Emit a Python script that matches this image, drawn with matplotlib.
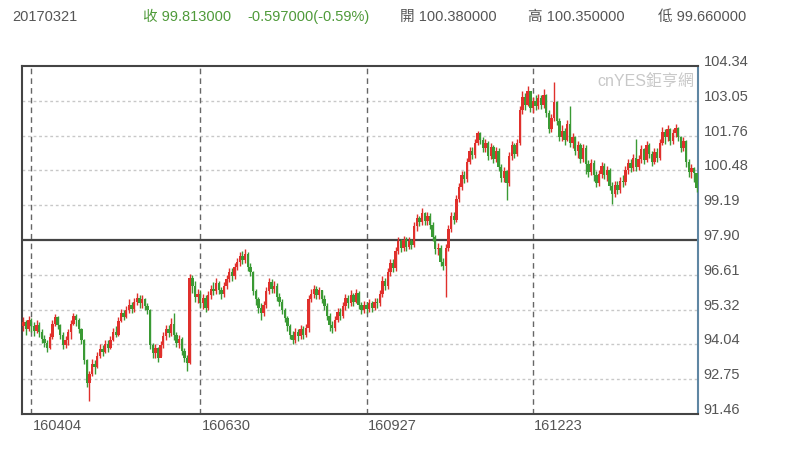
import numpy as np
import matplotlib
matplotlib.use("Agg")
import matplotlib.pyplot as plt
import matplotlib.transforms as mtransforms

plt.rcParams['font.family'] = ['Liberation Sans', 'Noto Sans CJK TC', 'DejaVu Sans']

# daily candles 2016-03 .. 2017-03-21
closes = [
    94.85, 94.60, 94.95, 94.70, 94.55, 94.75, 94.50, 94.25, 94.10, 93.90,
    94.30, 94.80, 95.05, 94.75, 94.40, 94.00, 94.20, 94.50, 94.80, 95.10,
    94.95, 94.60, 94.20, 93.45, 92.60, 92.95, 93.30, 93.20, 93.60, 93.85,
    93.75, 94.05, 93.90, 94.20, 94.50, 94.40, 94.90, 95.20, 95.05, 95.30,
    95.50, 95.35, 95.60, 95.75, 95.55, 95.70, 95.45, 95.30, 94.00, 93.70,
    93.90, 93.55, 94.00, 94.35, 94.60, 94.45, 94.80, 94.40, 94.10, 94.25,
    93.80, 93.55, 93.35, 96.50, 96.20, 95.80, 95.90, 95.55, 95.75, 95.40,
    95.85, 96.10, 96.00, 96.30, 96.05, 95.90, 96.20, 96.45, 96.70, 96.55,
    96.90, 97.10, 97.30, 97.15, 97.40, 96.90, 96.70, 96.00, 95.70, 95.40,
    95.20, 95.50, 96.00, 96.35, 96.10, 96.20, 95.80, 95.60, 95.30, 95.00,
    94.70, 94.40, 94.20, 94.50, 94.35, 94.60, 94.40, 94.65, 95.70, 95.90,
    96.10, 95.85, 96.05, 95.70, 95.45, 95.10, 94.75, 94.65, 94.95, 95.25,
    95.10, 95.45, 95.75, 95.55, 95.85, 95.60, 95.95, 95.50, 95.30, 95.50,
    95.35, 95.55, 95.40, 95.60, 95.55, 95.90, 96.40, 96.20, 96.70, 97.05,
    96.85, 97.50, 97.85, 97.60, 97.90, 97.65, 97.85, 97.70, 98.40, 98.70,
    98.55, 98.90, 98.60, 98.80, 98.45, 98.00, 97.55, 97.60, 97.10, 96.95,
    97.60, 98.30, 98.80, 98.65, 99.40, 99.85, 100.30, 100.15, 100.80, 101.20,
    101.05, 101.50, 101.85, 101.60, 101.30, 101.50, 101.00, 101.35, 100.90, 101.20,
    100.60, 100.20, 100.45, 100.00, 101.00, 101.40, 101.10, 101.50, 102.70, 103.20,
    102.90, 103.40, 102.80, 103.05, 102.85, 103.15, 102.90, 103.25, 102.60, 102.00,
    102.40, 103.00, 102.30, 101.70, 101.95, 101.60, 102.20, 101.50, 101.70, 101.20,
    101.40, 100.90, 101.30, 100.70, 100.40, 100.75, 100.30, 100.00, 100.35, 100.65,
    100.30, 100.50, 99.90, 99.60, 99.95, 99.75, 100.10, 100.05, 100.50, 100.75,
    100.55, 100.95, 100.60, 100.90, 101.25, 100.85, 101.40, 101.10, 100.80, 101.15,
    100.95, 101.50, 101.90, 101.70, 102.00, 101.55, 101.85, 102.05, 101.70, 101.30,
    101.55, 100.80, 100.40, 100.55, 100.38, 99.81,
]
highs = [
    95.05, 94.95, 95.10, 95.00, 94.85, 94.95, 94.85, 94.60, 94.40, 94.20,
    94.45, 94.95, 95.15, 95.10, 94.80, 94.50, 94.35, 94.60, 94.95, 95.20,
    95.15, 95.00, 94.65, 94.25, 93.50, 93.05, 93.50, 93.45, 93.75, 94.05,
    94.00, 94.20, 94.20, 94.35, 94.65, 94.70, 95.05, 95.35, 95.30, 95.45,
    95.70, 95.60, 95.75, 95.95, 95.85, 95.85, 95.75, 95.55, 95.35, 94.10,
    94.05, 93.95, 94.15, 94.50, 94.75, 94.75, 95.00, 95.20, 94.50, 94.40,
    94.30, 93.90, 93.65, 96.65, 96.60, 96.40, 96.10, 96.05, 95.90, 95.85,
    96.00, 96.25, 96.35, 96.50, 96.40, 96.15, 96.35, 96.60, 96.85, 96.85,
    97.05, 97.25, 97.45, 97.50, 97.55, 97.45, 97.05, 96.75, 96.10, 95.80,
    95.55, 95.65, 96.15, 96.50, 96.45, 96.40, 96.30, 95.95, 95.70, 95.40,
    95.10, 94.80, 94.55, 94.65, 94.60, 94.75, 94.70, 94.80, 95.85, 96.10,
    96.25, 96.20, 96.15, 96.05, 95.85, 95.55, 95.20, 94.90, 95.10, 95.40,
    95.40, 95.60, 95.90, 95.85, 96.05, 95.95, 96.10, 96.00, 95.60, 95.65,
    95.60, 95.70, 95.65, 95.75, 95.75, 96.05, 96.55, 96.50, 96.85, 97.20,
    97.20, 97.65, 98.00, 97.95, 98.05, 98.00, 98.00, 97.95, 98.55, 98.85,
    98.80, 99.10, 98.95, 98.95, 98.90, 98.55, 98.10, 97.80, 97.70, 97.25,
    97.75, 98.45, 98.95, 98.95, 99.55, 100.00, 100.45, 100.45, 100.95, 101.35,
    101.35, 101.65, 101.95, 101.90, 101.70, 101.65, 101.55, 101.50, 101.40, 101.35,
    101.30, 100.70, 100.60, 100.50, 101.15, 101.55, 101.50, 101.65, 102.85, 103.40,
    103.35, 103.60, 103.40, 103.20, 103.25, 103.30, 103.25, 103.50, 103.30, 102.70,
    102.55, 103.75, 103.05, 102.40, 102.15, 102.05, 102.35, 102.85, 101.85, 101.75,
    101.55, 101.50, 101.45, 101.40, 100.85, 100.90, 100.85, 100.45, 100.50, 100.80,
    100.75, 100.65, 100.55, 100.05, 100.10, 100.10, 100.25, 100.30, 100.65, 100.90,
    100.90, 101.10, 101.65, 101.05, 101.40, 101.30, 101.55, 101.50, 101.20, 101.30,
    101.30, 101.65, 102.10, 102.00, 102.15, 102.05, 102.00, 102.20, 102.10, 101.75,
    101.70, 101.60, 100.90, 100.70, 100.60, 100.38,
]
lows = [
    94.55, 94.40, 94.55, 94.50, 94.35, 94.45, 94.30, 94.10, 93.95, 93.75,
    93.85, 94.25, 94.70, 94.60, 94.25, 93.85, 93.90, 94.00, 94.25, 94.75,
    94.70, 94.45, 94.05, 93.30, 92.45, 91.95, 92.85, 92.95, 93.15, 93.55,
    93.60, 93.70, 93.75, 93.85, 94.15, 94.30, 94.35, 94.85, 94.95, 95.00,
    95.20, 95.20, 95.25, 95.50, 95.40, 95.40, 95.30, 95.15, 93.85, 93.55,
    93.55, 93.40, 93.60, 93.90, 94.20, 94.30, 94.35, 94.20, 93.95, 93.90,
    93.65, 93.40, 93.05, 93.30, 95.95, 95.60, 95.55, 95.40, 95.35, 95.25,
    95.30, 95.70, 95.85, 95.90, 95.90, 95.70, 95.80, 96.10, 96.35, 96.40,
    96.45, 96.80, 96.95, 97.00, 97.05, 96.75, 96.55, 95.85, 95.50, 95.20,
    94.95, 95.10, 95.40, 95.90, 95.95, 95.95, 95.65, 95.45, 95.15, 94.85,
    94.55, 94.25, 94.05, 94.10, 94.15, 94.25, 94.25, 94.30, 94.50, 95.60,
    95.75, 95.70, 95.70, 95.55, 95.30, 94.95, 94.55, 94.45, 94.55, 94.85,
    94.95, 95.00, 95.30, 95.40, 95.45, 95.45, 95.55, 95.35, 95.15, 95.20,
    95.20, 95.25, 95.25, 95.30, 95.40, 95.45, 95.80, 96.05, 96.10, 96.55,
    96.70, 96.75, 97.40, 97.45, 97.50, 97.50, 97.55, 97.55, 97.65, 98.25,
    98.40, 98.45, 98.45, 98.45, 98.30, 97.85, 97.40, 97.35, 96.95, 96.80,
    95.80, 97.50, 98.20, 98.50, 98.55, 99.30, 99.75, 100.00, 100.05, 100.70,
    100.90, 100.95, 101.40, 101.45, 101.15, 101.15, 100.85, 100.90, 100.75, 100.80,
    100.45, 100.05, 100.05, 99.38, 99.90, 100.85, 100.95, 101.00, 101.40, 102.55,
    102.70, 102.85, 102.65, 102.60, 102.70, 102.75, 102.75, 102.80, 102.45, 101.85,
    101.90, 102.30, 102.15, 101.55, 101.55, 101.40, 101.55, 101.35, 101.30, 101.05,
    100.95, 100.75, 100.80, 100.35, 100.25, 100.30, 100.10, 99.85, 99.90, 100.20,
    100.15, 100.10, 99.75, 99.25, 99.50, 99.60, 99.65, 99.85, 99.95, 100.35,
    100.40, 100.45, 100.45, 100.50, 100.75, 100.70, 100.80, 100.95, 100.65, 100.70,
    100.80, 100.85, 101.40, 101.45, 101.55, 101.40, 101.45, 101.70, 101.55, 101.15,
    101.20, 100.60, 100.25, 100.20, 100.05, 99.66,
]
first_open = 94.70
opens = [first_open] + closes[:-1]

ytick_vals = [91.46, 92.75, 94.04, 95.32, 96.61, 97.90, 99.19, 100.48, 101.76, 103.05, 104.34]
date_idx = [3, 67, 130, 193]
date_labels = ["160404", "160630", "160927", "161223"]
ref_level = 97.90

header = [
    (12, "20170321", "#555555"),
    (143, "收 99.813000", "#4f9a3a"),
    (247, "-0.597000(-0.59%)", "#4f9a3a"),
    (400, "開 100.380000", "#555555"),
    (528, "高 100.350000", "#555555"),
    (658, "低 99.660000", "#555555"),
]

W, H = 800, 450
fig = plt.figure(figsize=(8, 4.5), dpi=100)
ax = fig.add_axes([22 / W, 1 - 414 / H, 676 / W, 348 / H])

n = len(closes)
x = np.arange(n)
o = np.array(opens)
c = np.array(closes)
up = c >= o
cols = np.where(up, "#e0302c", "#3a9a34")

ax.vlines(x, lows, highs, colors=cols, lw=1.0, zorder=3)
bottom = np.minimum(o, c)
height = np.maximum(np.abs(c - o), 0.05)
ax.bar(x, height, bottom=bottom, width=0.9, color=cols, lw=0, zorder=3)

ax.set_xlim(-0.5, n - 0.5)
ax.set_ylim(ytick_vals[0], ytick_vals[-1])

for v in ytick_vals[1:-1]:
    if v == ref_level:
        ax.axhline(v, color="#444444", lw=1.6, zorder=2)
    else:
        ax.axhline(v, color="#c8c8c8", lw=1.0, ls=(0, (2, 2)), zorder=1)

for i in date_idx:
    ax.axvline(i, color="#666666", lw=1.0, ls=(0, (4, 3)), zorder=1)

ax.set_xticks([])
ax.set_yticks([])
for side in ["left", "top", "bottom"]:
    ax.spines[side].set_color("#444444")
    ax.spines[side].set_linewidth(1.5)
ax.spines["right"].set_color("#5f86a3")
ax.spines["right"].set_linewidth(1.5)

# y labels on the right, sitting a bit above their line
lab_tr = mtransforms.offset_copy(ax.get_yaxis_transform(), fig=fig, x=4, y=3, units="points")
for v in ytick_vals:
    ax.text(1.0, v, f"{v:.2f}", transform=lab_tr, ha="left", va="center",
            fontsize=10.5, color="#555555")

date_tr = mtransforms.offset_copy(ax.get_xaxis_transform(), fig=fig, x=1, y=-9, units="points")
for i, lab in zip(date_idx, date_labels):
    ax.text(i, 0, lab, transform=date_tr, ha="left", va="center",
            fontsize=10.5, color="#555555")

ax.text(0.995, 0.955, "cnYES鉅亨網", transform=ax.transAxes, ha="right", va="center",
        fontsize=11.5, color="#c8c8c8", zorder=4)

for px, txt, col in header:
    fig.text(px / W, 1 - 17 / H, txt, ha="left", va="center", fontsize=10.5, color=col)

fig.savefig("out.png", dpi=100, facecolor="white")
